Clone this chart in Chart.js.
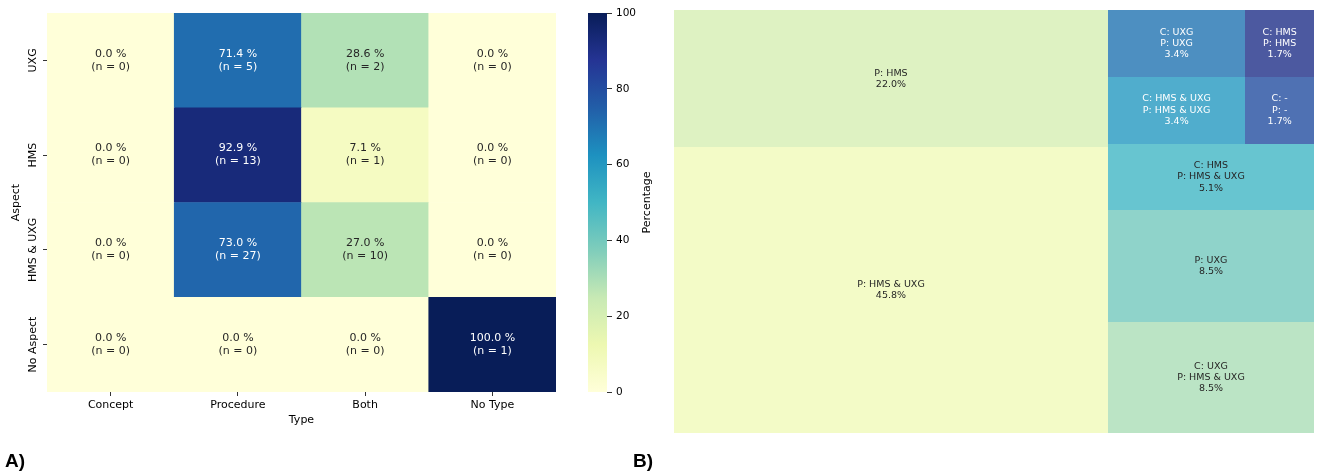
<!DOCTYPE html>
<html>
<head>
<meta charset="utf-8">
<script src="https://cdn.jsdelivr.net/npm/chart.js@4.4.1/dist/chart.umd.min.js"></script>
<style>
  body { margin: 0; background: #fff; }
  #wrap { position: relative; width: 1325px; height: 475px; background: #fff; }
  .box { position: absolute; top: 0; height: 475px; }
  .tag { position: absolute; font: bold 19px "Liberation Sans", Arial, sans-serif; line-height: 19px; color: #000; }
</style>
</head>
<body>
<div id="wrap">
  <div class="box" style="left:0;width:575px"><canvas id="heat"></canvas></div>
  <div class="box" style="left:575px;width:95px"><canvas id="cbar"></canvas></div>
  <div class="box" style="left:670px;width:655px"><canvas id="tree"></canvas></div>
  <div class="tag" style="left:5px;top:451px">A)</div>
  <div class="tag" style="left:633px;top:451px">B)</div>
</div>
<script>
// A) heatmap data, rows top to bottom
const types = ['Concept', 'Procedure', 'Both', 'No Type'];
const aspects = ['UXG', 'HMS', 'HMS & UXG', 'No Aspect'];
const uxgPct = [0.0, 71.4, 28.6, 0.0];
const hmsPct = [0.0, 92.9, 7.1, 0.0];
const hmsUxgPct = [0.0, 73.0, 27.0, 0.0];
const noAspectPct = [0.0, 0.0, 0.0, 100.0];
const uxgN = [0, 5, 2, 0];
const hmsN = [0, 13, 1, 0];
const hmsUxgN = [0, 27, 10, 0];
const noAspectN = [0, 0, 0, 1];
const cbarTicks = [0, 20, 40, 60, 80, 100];

// B) treemap data, largest first
const treeLabels = [
  ['P: HMS & UXG'],
  ['P: HMS'],
  ['C: UXG', 'P: HMS & UXG'],
  ['P: UXG'],
  ['C: HMS', 'P: HMS & UXG'],
  ['C: HMS & UXG', 'P: HMS & UXG'],
  ['C: UXG', 'P: UXG'],
  ['C: -', 'P: -'],
  ['C: HMS', 'P: HMS']
];
const treeCounts = [27, 13, 5, 5, 3, 2, 2, 1, 1];

const FONT = '"DejaVu Sans", sans-serif';
const YLGNBU = ['#ffffd9', '#edf8b1', '#c7e9b4', '#7fcdbb', '#41b6c4', '#1d91c0', '#225ea8', '#253494', '#081d58'];

function hexRgb(h) { return [1, 3, 5].map(i => parseInt(h.slice(i, i + 2), 16)); }
function ylgnbu(t) {
  t = Math.max(0, Math.min(1, t));
  const p = t * 8, i = Math.min(7, Math.floor(p)), f = p - i;
  const a = hexRgb(YLGNBU[i]), b = hexRgb(YLGNBU[i + 1]);
  return a.map((v, k) => v + (b[k] - v) * f);
}
function lum(rgb) {
  const c = rgb.map(v => { v /= 255; return v <= 0.03928 ? v / 12.92 : Math.pow((v + 0.055) / 1.055, 2.4); });
  return 0.2126 * c[0] + 0.7152 * c[1] + 0.0722 * c[2];
}
const css = rgb => 'rgb(' + rgb.map(Math.round).join(',') + ')';

// ---------- heatmap ----------
const aspectPct = [uxgPct, hmsPct, hmsUxgPct, noAspectPct];
const aspectN = [uxgN, hmsN, hmsUxgN, noAspectN];

// stacked bars go bottom-up, so reverse the rows
const heatSets = aspects.map((a, i) => ({
  label: a,
  data: types.map(() => 1),
  pct: aspectPct[i],
  n: aspectN[i],
  backgroundColor: aspectPct[i].map(v => css(ylgnbu(v / 100))),
  borderWidth: 0,
  barPercentage: 1,
  categoryPercentage: 1
})).reverse();

const heatLabels = {
  id: 'heatLabels',
  afterDatasetsDraw(chart) {
    const { ctx, chartArea, scales } = chart;
    ctx.save();
    ctx.font = '11px ' + FONT;
    ctx.textAlign = 'center';
    ctx.textBaseline = 'middle';
    chart.data.datasets.forEach((ds, di) => {
      chart.getDatasetMeta(di).data.forEach((bar, j) => {
        const v = ds.pct[j];
        ctx.fillStyle = lum(ylgnbu(v / 100)) > 0.408 ? '#262626' : '#ffffff';
        const { x, y, base } = bar.getProps(['x', 'y', 'base'], true);
        const cy = (y + base) / 2;
        ctx.fillText(v.toFixed(1) + ' %', x, cy - 6.5);
        ctx.fillText('(n = ' + ds.n[j] + ')', x, cy + 6.5);
      });
    });
    // rotated row labels
    ctx.fillStyle = '#000';
    chart.data.datasets.forEach((ds, di) => {
      const yy = scales.y.getPixelForValue(di + 0.5);
      ctx.save();
      ctx.translate(chartArea.left - 14, yy);
      ctx.rotate(-Math.PI / 2);
      ctx.fillText(ds.label, 0, 0);
      ctx.restore();
    });
    ctx.restore();
  }
};

new Chart(document.getElementById('heat'), {
  type: 'bar',
  data: { labels: types, datasets: heatSets },
  options: {
    responsive: true,
    maintainAspectRatio: false,
    animation: false,
    layout: { padding: { left: 0, top: 13, right: 19, bottom: 48 } },
    plugins: { legend: { display: false }, tooltip: { enabled: false } },
    scales: {
      x: {
        stacked: true,
        grid: { display: true, drawOnChartArea: false, offset: false, tickLength: 4, color: '#000', lineWidth: 0.8 },
        border: { display: false },
        ticks: { font: { family: FONT, size: 11 }, color: '#000', padding: 3 },
        title: { display: true, text: 'Type', font: { family: FONT, size: 11 }, color: '#000', padding: { top: 0, bottom: 0 } },
        afterFit(s) { s.height = 35; }
      },
      y: {
        stacked: true,
        min: 0,
        max: aspects.length,
        afterBuildTicks(s) { s.ticks = aspects.map((a, i) => ({ value: i + 0.5 })); },
        grid: { display: true, drawOnChartArea: false, tickLength: 4, color: '#000', lineWidth: 0.8 },
        border: { display: false },
        ticks: { display: false },
        title: { display: true, text: 'Aspect', font: { family: FONT, size: 11 }, color: '#000', padding: { top: 10, bottom: 0 } },
        afterFit(s) { s.width = 47; }
      }
    }
  },
  plugins: [heatLabels]
});

// ---------- colorbar ----------
function cbarFill(context) {
  const { chart } = context;
  const area = chart.chartArea;
  if (!area) return null;
  const g = chart.ctx.createLinearGradient(0, area.bottom, 0, area.top);
  YLGNBU.forEach((c, i) => g.addColorStop(i / (YLGNBU.length - 1), c));
  return g;
}

const cbarTitle = {
  id: 'cbarTitle',
  afterDraw(chart) {
    const { ctx, chartArea, scales } = chart;
    ctx.save();
    ctx.font = '11px ' + FONT;
    ctx.fillStyle = '#000';
    ctx.textAlign = 'center';
    ctx.textBaseline = 'middle';
    ctx.translate(scales.y.right + 10, (chartArea.top + chartArea.bottom) / 2);
    ctx.rotate(-Math.PI / 2);
    ctx.fillText('Percentage', 0, 0);
    ctx.restore();
  }
};

new Chart(document.getElementById('cbar'), {
  type: 'bar',
  data: {
    labels: ['Percentage'],
    datasets: [{
      data: [cbarTicks[cbarTicks.length - 1]],
      backgroundColor: cbarFill,
      borderWidth: 0,
      barPercentage: 1,
      categoryPercentage: 1
    }]
  },
  options: {
    responsive: true,
    maintainAspectRatio: false,
    animation: false,
    layout: { padding: { left: 13, top: 13, right: 33, bottom: 83 } },
    plugins: { legend: { display: false }, tooltip: { enabled: false } },
    scales: {
      x: { display: false },
      y: {
        position: 'right',
        min: cbarTicks[0],
        max: cbarTicks[cbarTicks.length - 1],
        afterBuildTicks(s) { s.ticks = cbarTicks.map(v => ({ value: v })); },
        ticks: { font: { family: FONT, size: 10.5 }, color: '#000', padding: 4 },
        grid: { display: true, drawOnChartArea: false, tickLength: 5, color: '#000', lineWidth: 0.8 },
        border: { display: false },
        afterFit(s) { s.width = 30; }
      }
    }
  },
  plugins: [cbarTitle]
});

// ---------- treemap (squarify layout on a 100 x 100 grid) ----------
function layoutRects(sizes, x, y, dx, dy) {
  const out = [];
  const total = sizes.reduce((a, b) => a + b, 0);
  if (dx >= dy) {
    const w = total / dy;
    let yy = y;
    sizes.forEach(s => { out.push({ x: x, y: yy, dx: w, dy: s / w }); yy += s / w; });
  } else {
    const h = total / dx;
    let xx = x;
    sizes.forEach(s => { out.push({ x: xx, y: y, dx: s / h, dy: h }); xx += s / h; });
  }
  return out;
}
function worst(sizes, x, y, dx, dy) {
  return Math.max(...layoutRects(sizes, x, y, dx, dy).map(r => Math.max(r.dx / r.dy, r.dy / r.dx)));
}
function squarify(sizes, x, y, dx, dy) {
  if (!sizes.length) return [];
  if (sizes.length === 1) return layoutRects(sizes, x, y, dx, dy);
  let i = 1;
  while (i < sizes.length && worst(sizes.slice(0, i), x, y, dx, dy) >= worst(sizes.slice(0, i + 1), x, y, dx, dy)) i++;
  const cur = sizes.slice(0, i), rest = sizes.slice(i);
  const area = cur.reduce((a, b) => a + b, 0);
  let lx = x, ly = y, ldx = dx, ldy = dy;
  if (dx >= dy) { const w = area / dy; lx = x + w; ldx = dx - w; }
  else { const h = area / dx; ly = y + h; ldy = dy - h; }
  return layoutRects(cur, x, y, dx, dy).concat(squarify(rest, lx, ly, ldx, ldy));
}

const treeTotal = treeCounts.reduce((a, b) => a + b, 0);
const treeRects = squarify(treeCounts.map(c => c * 10000 / treeTotal), 0, 0, 100, 100);
// palette sampled from YlGnBu, drawn at alpha 0.8 over white
const treeRgb = treeCounts.map((c, i) => ylgnbu((i + 1) / (treeCounts.length + 1)).map(v => 255 + (v - 255) * 0.8));

const treeDraw = {
  id: 'treeDraw',
  beforeDatasetsDraw(chart) {
    const { ctx, scales } = chart;
    const xs = scales.x, ys = scales.y;
    ctx.save();
    treeRects.forEach((r, i) => {
      const x0 = Math.round(xs.getPixelForValue(r.x)), x1 = Math.round(xs.getPixelForValue(r.x + r.dx));
      const y0 = Math.round(ys.getPixelForValue(r.y + r.dy)), y1 = Math.round(ys.getPixelForValue(r.y));
      ctx.fillStyle = css(treeRgb[i]);
      ctx.fillRect(x0, y0, x1 - x0, y1 - y0);
    });
    ctx.restore();
  },
  afterDatasetsDraw(chart) {
    const { ctx } = chart;
    ctx.save();
    ctx.font = '9.5px ' + FONT;
    ctx.textAlign = 'center';
    ctx.textBaseline = 'middle';
    chart.getDatasetMeta(0).data.forEach((pt, i) => {
      const lines = treeLabels[i].concat([(treeCounts[i] / treeTotal * 100).toFixed(1) + '%']);
      ctx.fillStyle = lum(treeRgb[i]) > 0.408 ? '#262626' : '#ffffff';
      const lh = 11.2;
      const top = pt.y - (lines.length - 1) * lh / 2;
      lines.forEach((t, k) => ctx.fillText(t, pt.x, top + k * lh));
    });
    ctx.restore();
  }
};

new Chart(document.getElementById('tree'), {
  type: 'scatter',
  data: {
    datasets: [{
      data: treeRects.map(r => ({ x: r.x + r.dx / 2, y: r.y + r.dy / 2 })),
      pointRadius: 0,
      pointHoverRadius: 0
    }]
  },
  options: {
    responsive: true,
    maintainAspectRatio: false,
    animation: false,
    layout: { padding: { left: 4, top: 10, right: 11, bottom: 42 } },
    plugins: { legend: { display: false }, tooltip: { enabled: false } },
    scales: {
      x: { display: false, min: 0, max: 100 },
      y: { display: false, min: 0, max: 100 }
    }
  },
  plugins: [treeDraw]
});
</script>
</body>
</html>
